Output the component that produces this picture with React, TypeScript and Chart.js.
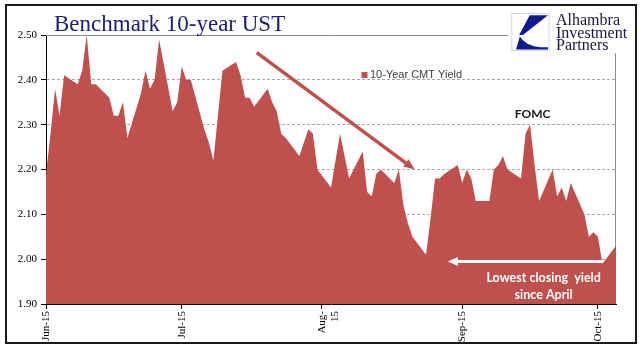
import React, { useEffect, useRef } from "react";
import { Chart, registerables } from "chart.js";

Chart.register(...registerables);

// ---- data ----
const dates = [
  "2015-06-01", "2015-06-02", "2015-06-03", "2015-06-04", "2015-06-05",
  "2015-06-08", "2015-06-09", "2015-06-10", "2015-06-11", "2015-06-12",
  "2015-06-15", "2015-06-16", "2015-06-17", "2015-06-18", "2015-06-19",
  "2015-06-22", "2015-06-23", "2015-06-24", "2015-06-25", "2015-06-26",
  "2015-06-29", "2015-06-30",
  "2015-07-01", "2015-07-02", "2015-07-03",
  "2015-07-06", "2015-07-07", "2015-07-08", "2015-07-09", "2015-07-10",
  "2015-07-13", "2015-07-14", "2015-07-15", "2015-07-16", "2015-07-17",
  "2015-07-20", "2015-07-21", "2015-07-22", "2015-07-23", "2015-07-24",
  "2015-07-27", "2015-07-28", "2015-07-29", "2015-07-30", "2015-07-31",
  "2015-08-03", "2015-08-04", "2015-08-05", "2015-08-06", "2015-08-07",
  "2015-08-10", "2015-08-11", "2015-08-12", "2015-08-13", "2015-08-14",
  "2015-08-17", "2015-08-18", "2015-08-19", "2015-08-20", "2015-08-21",
  "2015-08-24", "2015-08-25", "2015-08-26", "2015-08-27", "2015-08-28",
  "2015-08-31",
  "2015-09-01", "2015-09-02", "2015-09-03", "2015-09-04",
  "2015-09-07", "2015-09-08", "2015-09-09", "2015-09-10", "2015-09-11",
  "2015-09-14", "2015-09-15", "2015-09-16", "2015-09-17", "2015-09-18",
  "2015-09-21", "2015-09-22", "2015-09-23", "2015-09-24", "2015-09-25",
  "2015-09-28", "2015-09-29", "2015-09-30",
  "2015-10-01", "2015-10-02", "2015-10-05",
];

const yields = [
  2.19, 2.28, 2.38, 2.32, 2.41,
  2.39, 2.42, 2.50, 2.39, 2.39,
  2.36, 2.32, 2.32, 2.35, 2.27,
  2.37, 2.42, 2.38, 2.40, 2.49,
  2.33, 2.35,
  2.43, 2.40, 2.40,
  2.29, 2.26, 2.22, 2.32, 2.42,
  2.44, 2.41, 2.36, 2.36, 2.34,
  2.38, 2.35, 2.33, 2.28, 2.27,
  2.23, 2.26, 2.29, 2.28, 2.20,
  2.16, 2.22, 2.28, 2.23, 2.18,
  2.24, 2.15, 2.14, 2.19, 2.20,
  2.17, 2.20, 2.12, 2.08, 2.05,
  2.01, 2.09, 2.18, 2.18, 2.19,
  2.21,
  2.17, 2.20, 2.18, 2.13,
  2.13, 2.20, 2.21, 2.23, 2.20,
  2.18, 2.28, 2.30, 2.21, 2.13,
  2.20, 2.14, 2.16, 2.13, 2.17,
  2.10, 2.05, 2.06,
  2.05, 1.99, 2.03,
];

const seriesName = "10-Year CMT Yield";
const startDate = "2015-06-01";
const endDate = "2015-10-05";
const tickDates = ["2015-06-01", "2015-07-01", "2015-08-01", "2015-09-01", "2015-10-01"];
const tickLabels: (string | string[])[] = ["Jun-15", "Jul-15", ["Aug-", "15"], "Sep-15", "Oct-15"];
const yTickValues = [1.9, 2.0, 2.1, 2.2, 2.3, 2.4, 2.5];
const yMin = 1.9;
const yMax = 2.5;

// annotations (data coordinates)
const trendArrowFrom: [string, number] = ["2015-07-17T14:00:00Z", 2.4605];
const trendArrowTo: [string, number] = ["2015-08-21T12:00:00Z", 2.2];
const lowArrowFrom: [string, number] = ["2015-10-02T00:00:00Z", 1.995];
const lowArrowTo: [string, number] = ["2015-08-28T20:00:00Z", 1.995];
const fomcLabel = "FOMC";
const fomcAt: [string, number] = ["2015-09-16T14:00:00Z", 2.324];
const lowNoteLines = ["Lowest closing  yield", "since April"];
const lowNoteAt: [string, number[]] = ["2015-09-19T00:00:00Z", [1.957, 1.921]];

const DAY = 86400000;
const t0 = Date.parse(startDate + "T00:00:00Z");
const day = (s: string) => (Date.parse(s.length === 10 ? s + "T00:00:00Z" : s) - t0) / DAY;

const RED = "#c0504d";
const serif = "'Liberation Serif', 'Times New Roman', serif";

function drawArrow(
  ctx: CanvasRenderingContext2D,
  x1: number, y1: number, x2: number, y2: number,
  color: string, width: number, headLen: number, headWidth: number
) {
  const dx = x2 - x1, dy = y2 - y1;
  const len = Math.hypot(dx, dy);
  const ux = dx / len, uy = dy / len;
  const bx = x2 - ux * headLen, by = y2 - uy * headLen;
  ctx.save();
  ctx.strokeStyle = color;
  ctx.fillStyle = color;
  ctx.lineWidth = width;
  ctx.lineCap = "butt";
  ctx.beginPath();
  ctx.moveTo(x1, y1);
  ctx.lineTo(bx + ux * 1, by + uy * 1);
  ctx.stroke();
  ctx.beginPath();
  ctx.moveTo(x2, y2);
  ctx.lineTo(bx - uy * headWidth / 2, by + ux * headWidth / 2);
  ctx.lineTo(bx + uy * headWidth / 2, by - ux * headWidth / 2);
  ctx.closePath();
  ctx.fill();
  ctx.restore();
}

const overlayPlugin = {
  id: "overlay",
  beforeDatasetsDraw(chart: any) {
    const { ctx, chartArea } = chart;
    ctx.save();
    ctx.strokeStyle = "#8c8c8c";
    ctx.lineWidth = 1;
    ctx.beginPath();
    ctx.moveTo(chartArea.left, Math.round(chartArea.top) + 0.5);
    ctx.lineTo(Math.round(chartArea.right) - 0.5, Math.round(chartArea.top) + 0.5);
    ctx.lineTo(Math.round(chartArea.right) - 0.5, chartArea.bottom);
    ctx.stroke();
    ctx.restore();
  },
  afterDatasetsDraw(chart: any) {
    const { ctx, chartArea } = chart;
    const xs = chart.scales.x;
    const ys = chart.scales.y;
    const px = (d: string) => xs.getPixelForValue(day(d));
    const py = (v: number) => ys.getPixelForValue(v);

    drawArrow(ctx, px(trendArrowFrom[0]), py(trendArrowFrom[1]), px(trendArrowTo[0]), py(trendArrowTo[1]), RED, 3.5, 11, 9);
    drawArrow(ctx, px(lowArrowFrom[0]), py(lowArrowFrom[1]), px(lowArrowTo[0]), py(lowArrowTo[1]), "#ffffff", 3, 10, 9);

    ctx.save();
    ctx.textAlign = "center";
    ctx.textBaseline = "middle";
    ctx.fillStyle = "#1a1a1a";
    ctx.font = "bold 12px Lato, 'Open Sans', sans-serif";
    ctx.fillText(fomcLabel, px(fomcAt[0]), py(fomcAt[1]));

    ctx.fillStyle = "#ffffff";
    ctx.font = "bold 12.5px Lato, 'Open Sans', sans-serif";
    lowNoteLines.forEach((line, i) => {
      ctx.fillText(line, px(lowNoteAt[0]), py(lowNoteAt[1][i]));
    });

    // legend
    const lx = chartArea.left + 315.5;
    const ly = chartArea.top + 37;
    ctx.fillStyle = RED;
    ctx.fillRect(lx, ly, 6, 6);
    ctx.fillStyle = "#404040";
    ctx.textAlign = "left";
    ctx.font = "11px 'Liberation Sans', Arial, sans-serif";
    ctx.fillText(seriesName, lx + 8.5, ly + 3);
    ctx.restore();
  },
};

export default function App() {
  const canvasRef = useRef<HTMLCanvasElement | null>(null);

  useEffect(() => {
    const canvas = canvasRef.current;
    if (!canvas) return;
    const chart = new Chart(canvas, {
      type: "line",
      data: {
        datasets: [
          {
            label: seriesName,
            data: dates.map((d, i) => ({ x: day(d), y: yields[i] })),
            fill: "start",
            backgroundColor: RED,
            borderColor: RED,
            borderWidth: 0,
            pointRadius: 0,
            tension: 0,
          },
        ],
      },
      options: {
        animation: false,
        responsive: false,
        devicePixelRatio: 1,
        layout: { padding: { left: 0, right: 28, top: 35, bottom: 0 } },
        plugins: {
          legend: { display: false },
          tooltip: { enabled: false },
          title: { display: false },
        },
        scales: {
          x: {
            type: "linear",
            min: 0,
            max: day(endDate),
            afterBuildTicks: (s: any) => {
              s.ticks = tickDates.map((d) => ({ value: day(d) }));
            },
            afterFit: (s: any) => {
              s.height = 57;
            },
            ticks: {
              autoSkip: false,
              minRotation: 90,
              maxRotation: 90,
              padding: 2,
              color: "#000",
              font: { family: serif, size: 11 },
              callback: (v: any) => {
                const i = tickDates.findIndex((d) => Math.abs(day(d) - Number(v)) < 1e-6);
                return i >= 0 ? tickLabels[i] : "";
              },
            },
            grid: { drawOnChartArea: false, drawTicks: true, tickLength: 5, tickColor: "#000" },
            border: { display: true, color: "#000", width: 1 },
          },
          y: {
            type: "linear",
            min: yMin,
            max: yMax,
            afterBuildTicks: (s: any) => {
              s.ticks = yTickValues.map((v) => ({ value: v }));
            },
            afterFit: (s: any) => {
              s.width = 46;
            },
            ticks: {
              padding: 4,
              color: "#000",
              font: { family: serif, size: 11 },
              callback: (v: any) => Number(v).toFixed(2),
            },
            grid: {
              color: (ctx: any) =>
                ctx.tick && ctx.tick.value > yMin + 0.05 && ctx.tick.value < yMax - 0.05 ? "#a8a8a8" : "rgba(0,0,0,0)",
              lineWidth: 1,
              tickColor: "#000",
              tickLength: 5,
            },
            border: { display: true, color: "#000", width: 1, dash: [3, 2] },
          },
        },
      } as any,
      plugins: [overlayPlugin],
    });
    return () => chart.destroy();
  }, []);

  return (
    <div
      style={{
        position: "fixed",
        left: 0,
        top: 0,
        width: 644,
        height: 361,
        background: "#ffffff",
        overflow: "hidden",
      }}
    >
      <canvas ref={canvasRef} width={644} height={361} style={{ position: "absolute", left: 0, top: 0, width: 644, height: 361 }} />
      <div
        style={{
          position: "absolute",
          left: 54,
          top: 12,
          fontFamily: serif,
          fontSize: 23,
          lineHeight: "23px",
          color: "#1e1b78",
          whiteSpace: "nowrap",
        }}
      >
        Benchmark 10-year UST
      </div>
      <div style={{ position: "absolute", left: 508, top: 9, width: 112, height: 44, background: "#ffffff" }}>
        <svg
          width={39}
          height={38}
          viewBox="0 0 100 100"
          style={{ position: "absolute", left: 3, top: 4 }}
        >
          <rect x={1} y={1} width={98} height={98} fill="#ffffff" stroke="#c8c8c8" strokeWidth={2} />
          <path d="M 48 6 L 96 6 L 30 58 L 20 58 Z" fill="#0c1a8c" />
          <path d="M 22 62 C 40 88 70 92 96 90 L 96 96 L 12 96 Z" fill="#0c1a8c" />
        </svg>
        <div
          style={{
            position: "absolute",
            left: 48,
            top: 5,
            fontFamily: serif,
            fontSize: 16,
            lineHeight: "12.5px",
            color: "#17173f",
            whiteSpace: "nowrap",
          }}
        >
          <div>Alhambra</div>
          <div>Investment</div>
          <div>Partners</div>
        </div>
      </div>
      <div
        style={{
          position: "absolute",
          left: 5,
          top: 4,
          width: 632,
          height: 340,
          boxSizing: "border-box",
          border: "2px solid #1a1a1a",
          pointerEvents: "none",
        }}
      />
    </div>
  );
}
